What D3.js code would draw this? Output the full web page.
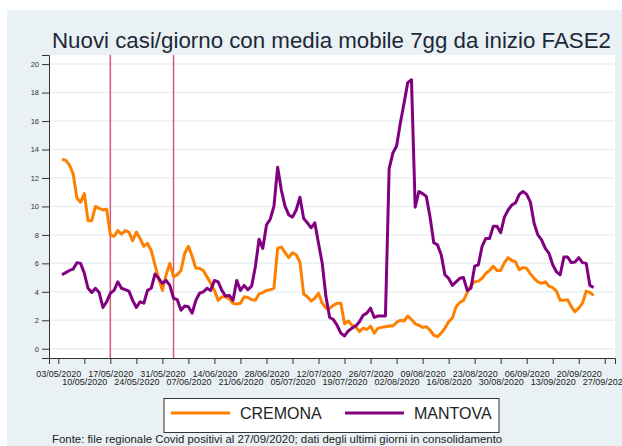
<!DOCTYPE html>
<html>
<head>
<meta charset="utf-8">
<script src="https://cdn.jsdelivr.net/npm/d3@7"></script>
<style>
  body { margin: 0; background: #fff; }
  svg { display: block; font-family: "Liberation Sans", Arial, sans-serif; }
</style>
</head>
<body>
<div class="chart"></div>
<script>
// first day of the series (one value per day)
const firstDay = "2020-05-04";

const cremona = [
  13.3, 13.25, 12.9, 12.3, 10.6, 10.3, 10.9, 9.0, 9.0, 10.0,
  9.86, 9.75, 9.8, 8.0, 7.9, 8.3, 8.05, 8.3, 8.2, 7.6,
  8.2, 7.75, 7.2, 7.4, 6.9, 5.9, 4.95, 4.1, 5.2, 6.0,
  5.05, 5.2, 5.5, 6.7, 7.2, 6.5, 5.65, 5.65, 5.5, 5.05,
  4.6, 4.1, 3.4, 3.65, 3.65, 3.5, 3.2, 3.15, 3.2, 3.65,
  3.6, 3.45, 3.4, 3.85, 3.95, 4.1, 4.15, 4.25, 7.05, 7.15,
  6.75, 6.4, 6.75, 6.6, 6.1, 3.85, 3.65, 3.35, 3.55, 3.9,
  3.2, 2.85, 2.85, 3.05, 3.2, 3.2, 1.75, 1.95, 1.65, 1.55,
  1.2, 1.45, 1.35, 1.6, 1.1, 1.45, 1.5, 1.55, 1.6, 1.6,
  1.85, 2.0, 1.95, 2.3, 2.05, 1.75, 1.65, 1.5, 1.55, 1.3,
  0.95, 0.85, 1.1, 1.45, 1.9, 2.15, 2.95, 3.25, 3.4, 3.95,
  4.45, 4.7, 4.75, 4.95, 5.3, 5.5, 5.8, 5.5, 5.5, 6.05,
  6.4, 6.2, 6.1, 5.55, 5.7, 5.65, 5.25, 4.95, 4.7, 4.6,
  4.7, 4.4, 4.3, 4.05, 3.4, 3.4, 3.45, 2.95, 2.6, 2.85,
  3.2, 4.05, 3.95, 3.75
];

const mantova = [
  5.2, 5.35, 5.5, 5.6, 6.05, 6.0, 5.3, 4.25, 3.95, 4.25,
  3.95, 2.9, 3.3, 3.9, 4.1, 4.7, 4.25, 4.15, 4.05, 3.4,
  2.9, 3.3, 3.2, 4.1, 4.25, 5.25, 4.95, 4.6, 4.8, 4.45,
  3.55, 3.45, 2.7, 3.0, 2.95, 2.5, 3.4, 3.9, 4.0, 4.25,
  4.1, 4.8, 4.7, 4.1, 3.7, 3.75, 3.4, 4.8, 4.1, 4.45,
  4.15, 4.4, 5.75, 7.7, 7.05, 8.7, 9.1, 10.0, 12.75, 11.15,
  10.0, 9.4, 9.25, 9.75, 10.65, 9.15, 8.85, 8.5, 8.85, 7.4,
  6.0, 3.65, 2.2, 2.05, 1.65, 1.1, 0.9, 1.25, 1.45, 1.6,
  1.9, 2.35, 2.5, 2.85, 2.2, 2.3, 2.3, 2.3, 12.65, 13.75,
  14.25, 15.85, 17.25, 18.7, 18.9, 9.95, 11.05, 10.9, 10.7, 9.25,
  7.45, 7.3, 6.6, 5.2, 4.95, 4.45, 4.7, 4.95, 5.0, 4.1,
  4.25, 5.8, 5.9, 7.2, 7.75, 7.75, 8.6, 8.6, 8.15, 9.25,
  9.75, 10.1, 10.25, 10.85, 11.05, 10.85, 10.3, 8.8, 8.0, 7.65,
  7.05, 6.7, 5.9, 5.4, 5.2, 6.45, 6.45, 6.05, 6.1, 6.4,
  6.05, 6.0, 4.45, 4.3
];

const xTickLabels = [
  "03/05/2020", "10/05/2020", "17/05/2020", "24/05/2020", "31/05/2020", "07/06/2020",
  "14/06/2020", "21/06/2020", "28/06/2020", "05/07/2020", "12/07/2020", "19/07/2020",
  "26/07/2020", "02/08/2020", "09/08/2020", "16/08/2020", "23/08/2020", "30/08/2020",
  "06/09/2020", "13/09/2020", "20/09/2020", "27/09/2020"
];
const yTicks = [0, 2, 4, 6, 8, 10, 12, 14, 16, 18, 20];
const markerDays = ["17/05/2020", "03/06/2020"];
const seriesNames = ["CREMONA", "MANTOVA"];
const seriesColors = ["#ff8000", "#800080"];

const parseIt = d3.utcParse("%d/%m/%Y");
const start = d3.utcParse("%Y-%m-%d")(firstDay);
const dayOf = i => d3.utcDay.offset(start, i);

const createLineChart = () => {
  const svg = d3.select(".chart")
    .append("svg")
      .attr("width", 622)
      .attr("height", 446);

  // panel background
  svg.append("rect")
    .attr("x", 7).attr("y", 10)
    .attr("width", 615).attr("height", 436)
    .attr("fill", "#e9f1f4");

  const x = d3.scaleUtc()
    .domain([d3.utcHour.offset(parseIt("03/05/2020"), -60), d3.utcHour.offset(parseIt("27/09/2020"), 66)])
    .range([49, 615]);
  const y = d3.scaleLinear()
    .domain([-0.65, 20.64])
    .range([358, 55]);

  // plot area
  svg.append("rect")
    .attr("x", 49).attr("y", 55)
    .attr("width", 566).attr("height", 303)
    .attr("fill", "#fff");

  // horizontal grid
  svg.append("g")
    .selectAll("line")
    .data(yTicks)
    .join("line")
      .attr("x1", 50).attr("x2", 614)
      .attr("y1", d => y(d)).attr("y2", d => y(d))
      .attr("stroke", "#e9f0f3")
      .attr("stroke-width", 1.5);

  // title
  svg.append("text")
    .attr("x", 52).attr("y", 48)
    .attr("font-size", 22.3)
    .attr("fill", "#1c2838")
    .text("Nuovi casi/giorno con media mobile 7gg da inizio FASE2");

  // y axis
  const yAxis = svg.append("g")
    .attr("transform", "translate(49,0)")
    .call(d3.axisLeft(y).tickValues(yTicks).tickSize(7).tickPadding(3));
  yAxis.selectAll("text").attr("font-size", 7.5).attr("fill", "#333").attr("font-family", "Liberation Sans, Arial");
  yAxis.selectAll("line, path").attr("stroke", "#333");

  // x axis, labels staggered on two rows
  const xAxis = svg.append("g")
    .attr("transform", "translate(0,358)")
    .call(d3.axisBottom(x)
      .tickValues(xTickLabels.map(parseIt))
      .tickSize(6)
      .tickFormat((d, i) => xTickLabels[i]));
  xAxis.selectAll("line, path").attr("stroke", "#333");
  xAxis.selectAll("text")
    .attr("font-size", 9)
    .attr("font-family", "Liberation Sans, Arial")
    .attr("fill", "#222")
    .attr("dy", null)
    .attr("y", (d, i) => i % 2 === 0 ? 18.5 : 27);

  // FASE2 milestones
  svg.append("g")
    .selectAll("line")
    .data(markerDays.map(parseIt))
    .join("line")
      .attr("x1", d => x(d)).attr("x2", d => x(d))
      .attr("y1", 55).attr("y2", 358)
      .attr("stroke", "#d35a7c")
      .attr("stroke-width", 1.5);

  const line = d3.line()
    .x((d, i) => x(dayOf(i)))
    .y(d => y(d));

  svg.append("g")
    .selectAll("path")
    .data([cremona, mantova])
    .join("path")
      .attr("d", line)
      .attr("fill", "none")
      .attr("stroke", (d, i) => seriesColors[i])
      .attr("stroke-width", 3)
      .attr("stroke-linejoin", "round");

  // legend
  const legend = svg.append("g");
  legend.append("rect")
    .attr("x", 164).attr("y", 398.5)
    .attr("width", 335).attr("height", 34)
    .attr("fill", "#fff")
    .attr("stroke", "#333");
  const items = legend.selectAll("g.item")
    .data(seriesNames)
    .join("g")
      .attr("class", "item")
      .attr("transform", (d, i) => `translate(${i === 0 ? 171 : 345},0)`);
  items.append("line")
    .attr("x1", 0).attr("x2", 59)
    .attr("y1", 413).attr("y2", 413)
    .attr("stroke", (d, i) => seriesColors[i])
    .attr("stroke-width", 3);
  items.append("text")
    .attr("x", 69).attr("y", 419)
    .attr("font-size", 16)
    .attr("fill", "#222")
    .text(d => d);

  // source note
  svg.append("text")
    .attr("x", 52).attr("y", 443)
    .attr("font-size", 11.4)
    .attr("fill", "#222")
    .text("Fonte: file regionale Covid positivi al 27/09/2020; dati degli ultimi giorni in consolidamento");
};

createLineChart();
</script>
</body>
</html>
